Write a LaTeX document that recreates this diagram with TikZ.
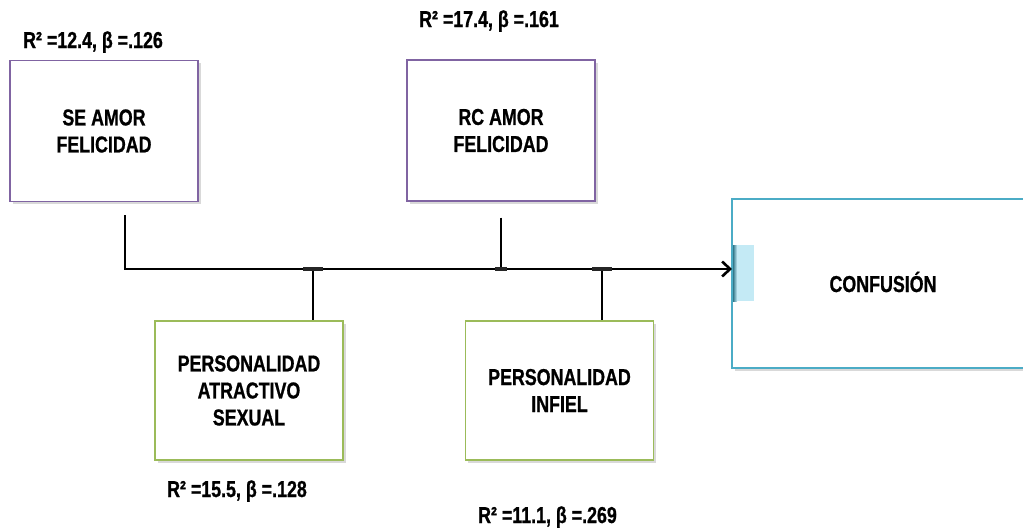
\documentclass[tikz,border=0pt]{standalone}
\usepackage{fontspec}
\setmainfont{Liberation Sans}[FakeStretch=0.775, BoldFeatures={FakeBold=0.8}]
\usetikzlibrary{arrows.meta,shadows,calc}
\definecolor{boxpurple}{HTML}{8064A2}
\definecolor{boxgreen}{HTML}{9BBB59}
\definecolor{boxblue}{HTML}{4BACC6}
\definecolor{tabblue}{HTML}{C4EAF5}
\begin{document}
\begin{tikzpicture}[x=1pt,y=-1pt,
  txt/.style={font=\fontsize{23}{27}\selectfont\bfseries, align=center},
  varbox/.style={draw, line width=1.4pt, fill=white, minimum width=188pt, minimum height=141pt, inner sep=0pt, txt,
     drop shadow={opacity=0.3, shadow xshift=2.5pt, shadow yshift=-2.5pt}},
  predbox/.style={varbox, draw=boxpurple},
  modbox/.style={varbox, draw=boxgreen, minimum height=139pt},
  outbox/.style={varbox, draw=boxblue, minimum width=298pt, minimum height=169pt},
  stat/.style={txt, anchor=base},
  conn/.style={line width=2.6pt, black},
  tbar/.style={line width=4.5pt, black!85},
]
\useasboundingbox (0,0) rectangle (1023,531);

% boxes
\node[predbox] (se) at (104,131) {SE AMOR\\FELICIDAD};
\node[predbox] (rc) at (501,130.5) {RC AMOR\\FELICIDAD};
\node[modbox] (pa) at (249,390.5) {PERSONALIDAD\\ATRACTIVO\\SEXUAL};
\node[modbox] (pi) at (559.5,390.5) {PERSONALIDAD\\INFIEL};
\node[outbox] (cf) at (881,283.5) {};
\node[txt, anchor=base] (cft) at (883,292) {CONFUSIÓN};

% blue tab on the outcome box
\fill[tabblue] (733,245) rectangle (754,301);
\shade[left color=boxblue!70!black, right color=tabblue] (733,245) rectangle (737,301);
\coordinate (tab) at (732,269);

% statistics labels
\node[stat] (l1) at (93,48) {R² =12.4, β =.126};
\node[stat] (l2) at (489,27) {R² =17.4, β =.161};
\node[stat] (l3) at (237,497) {R² =15.5, β =.128};
\node[stat] (l4) at (547.5,523) {R² =11.1, β =.269};

% junction points on the main line
\coordinate (j0) at (125,269);
\coordinate (j1) at (313,269);
\coordinate (j2) at (501,269);
\coordinate (j3) at (602,269);

% connectors
\draw[conn, -{Straight Barb[length=8pt,width=15pt,line width=2.6pt]}]
  (se.south -| j0) ++(0,13) |- (tab);
\draw[conn] (rc.south -| j2) ++(0,16) -- (j2);
\draw[conn] (j1) -- (pa.north -| j1);
\draw[conn] (j3) -- (pi.north -| j3);
\draw[tbar] ($(j1)+(-10,0)$) -- ($(j1)+(10,0)$);
\draw[tbar] ($(j3)+(-10,0)$) -- ($(j3)+(10,0)$);
\draw[tbar] ($(j2)+(-6,0)$) -- ($(j2)+(6,0)$);
\end{tikzpicture}
\end{document}
